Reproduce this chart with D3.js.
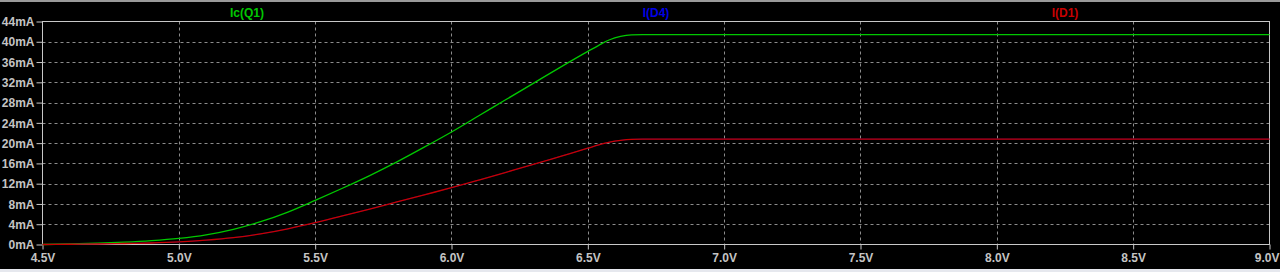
<!DOCTYPE html>
<html>
<head>
<meta charset="utf-8">
<script src="https://cdn.jsdelivr.net/npm/d3@7"></script>
<style>
  html, body { margin: 0; padding: 0; background: #000; }
  svg { display: block; }
</style>
</head>
<body>
<svg id="chart" width="1280" height="272"></svg>
<script>
// ---- data ----
const voltage = [4.5, 4.6, 4.7, 4.8, 4.9, 5.0, 5.1, 5.2, 5.3, 5.4, 5.5, 5.6, 5.7, 5.8, 5.9, 6.0, 6.1, 6.2, 6.3, 6.4, 6.5, 6.54, 6.58, 6.62, 6.66, 6.7, 7.0, 8.0, 9.0];
const icQ1   = [0, 0.1, 0.25, 0.45, 0.75, 1.2, 1.9, 3.0, 4.5, 6.4, 8.7, 11.1, 13.6, 16.3, 19.2, 22.2, 25.4, 28.6, 31.8, 35.0, 38.1, 39.3, 40.4, 41.05, 41.35, 41.4, 41.4, 41.4, 41.4];
const iD1    = [0, 0.05, 0.1, 0.2, 0.3, 0.5, 0.85, 1.35, 2.1, 3.1, 4.3, 5.65, 7.0, 8.4, 9.8, 11.2, 12.7, 14.25, 15.8, 17.4, 19.0, 19.65, 20.2, 20.55, 20.75, 20.8, 20.8, 20.8, 20.8];
const iD4    = iD1; // hidden under I(D1) in the reference
const xTicks = [4.5, 5.0, 5.5, 6.0, 6.5, 7.0, 7.5, 8.0, 8.5, 9.0];
const yTicks = [0, 4, 8, 12, 16, 20, 24, 28, 32, 36, 40, 44];
const seriesNames  = ["Ic(Q1)", "I(D4)", "I(D1)"];
const seriesColors = ["#00c800", "#0000e6", "#c80000"];
const seriesWidths = [1.3, 0.5, 1.3];
const seriesValues = [icQ1, iD4, iD1];

// ---- layout ----
const svg = d3.select("#chart");
const W = 1280, H = 272;
const mLeft = 42.5, mRight = 1269.5, mTop = 21.5, mBottom = 244.5;

svg.append("rect").attr("width", W).attr("height", H).attr("fill", "#000");
svg.append("rect").attr("x", 0).attr("y", 0).attr("width", W).attr("height", 2).attr("fill", "#9a9a9a");
svg.append("rect").attr("x", 0).attr("y", 269).attr("width", W).attr("height", 3).attr("fill", "#e6e8ee");

const x = d3.scaleLinear().domain([4.5, 9.0]).range([mLeft, mRight]);
const y = d3.scaleLinear().domain([0, 44]).range([mBottom, mTop]);

const gridColor = "#8c8c8c";
// grid
svg.append("g").selectAll("line").data(xTicks.slice(1, -1)).join("line")
  .attr("x1", d => Math.round(x(d)) + 0.5).attr("x2", d => Math.round(x(d)) + 0.5)
  .attr("y1", mTop).attr("y2", mBottom)
  .attr("stroke", gridColor).attr("stroke-width", 1).attr("stroke-dasharray", "3,3");
svg.append("g").selectAll("line").data(yTicks.slice(1, -1)).join("line")
  .attr("y1", d => Math.round(y(d)) + 0.5).attr("y2", d => Math.round(y(d)) + 0.5)
  .attr("x1", mLeft).attr("x2", mRight)
  .attr("stroke", gridColor).attr("stroke-width", 1).attr("stroke-dasharray", "3,3");

const textColor = "#c4c4c4";
const font = "'Liberation Sans', Arial, sans-serif";

// axes
const yAxis = d3.axisLeft(y).tickValues(yTicks).tickSize(6).tickPadding(2)
  .tickFormat(d => d + "mA");
const gy = svg.append("g").attr("transform", `translate(${mLeft},0)`).call(yAxis);
const xAxis = d3.axisBottom(x).tickValues(xTicks).tickSize(5).tickPadding(4)
  .tickFormat(d => d.toFixed(1) + "V");
const gx = svg.append("g").attr("transform", `translate(0,${mBottom})`).call(xAxis);
[gx, gy].forEach(g => {
  g.select(".domain").remove();
  g.selectAll("line").attr("stroke", "#c8c8c8");
  g.selectAll("text").attr("fill", textColor).attr("font-family", font)
    .attr("font-size", 12).attr("font-weight", "bold");
});
gy.selectAll("text").attr("dy", "0.35em");
// keep the last x label inside the window
gx.selectAll(".tick").filter(d => d === 9.0).select("text")
  .attr("text-anchor", "end").attr("x", 1279 - x(9.0));

// frame
svg.append("rect").attr("x", mLeft).attr("y", mTop)
  .attr("width", mRight - mLeft).attr("height", mBottom - mTop)
  .attr("fill", "none").attr("stroke", "#c8c8c8").attr("stroke-width", 1);

// curves
const line = d3.line().x(d => x(d[0])).y(d => y(d[1])).curve(d3.curveMonotoneX);
seriesValues.forEach((vals, i) => {
  svg.append("path")
    .datum(voltage.map((v, k) => [v, vals[k]]))
    .attr("d", line).attr("fill", "none")
    .attr("stroke", seriesColors[i]).attr("stroke-width", seriesWidths[i]);
});

// legend labels
seriesNames.forEach((name, i) => {
  svg.append("text")
    .attr("x", mLeft + (mRight - mLeft) * (2 * i + 1) / 6)
    .attr("y", 17).attr("text-anchor", "middle")
    .attr("fill", seriesColors[i]).attr("font-family", font)
    .attr("font-size", 12).attr("font-weight", "bold")
    .text(name);
});
</script>
</body>
</html>
